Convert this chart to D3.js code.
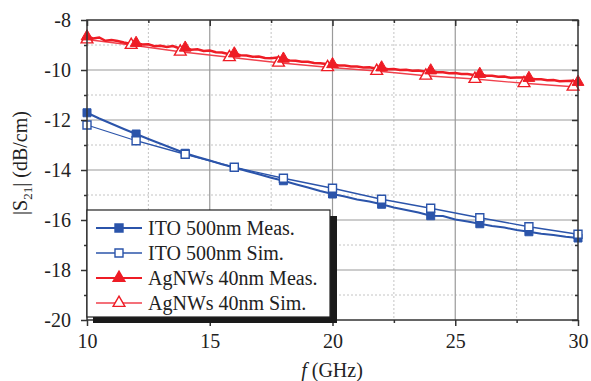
<!DOCTYPE html>
<html>
<head>
<meta charset="utf-8">
<script src="https://cdn.jsdelivr.net/npm/d3@7"></script>
<style>
  html, body { margin: 0; padding: 0; background: #fff; }
  svg { display: block; }
  text { font-family: "Liberation Serif", "Times New Roman", serif; fill: #222; }
</style>
</head>
<body>
<svg id="chart" width="591" height="381"></svg>
<script>
// Frequency axis (GHz) and tick labels
const xTicks = [10, 15, 20, 25, 30];
const xMinor = [12.5, 17.5, 22.5, 27.5];
const yTicks = [-8, -10, -12, -14, -16, -18, -20];
const yMinor = [-9, -11, -13, -15, -17, -19];

// ITO 500nm, measured (dB/cm)
const itoMeasF = [10, 10.5, 11, 11.5, 12, 12.5, 13, 13.5, 14, 14.5, 15, 15.5, 16, 16.5, 17, 17.5, 18, 18.5, 19, 19.5,
  20, 20.5, 21, 21.5, 22, 22.5, 23, 23.5, 24, 24.5, 25, 25.5, 26, 26.5, 27, 27.5, 28, 28.5, 29, 29.5, 30];
const itoMeas = [-11.71, -11.94, -12.15, -12.36, -12.56, -12.76, -12.95, -13.14, -13.33, -13.48, -13.62, -13.77, -13.90, -14.04,
  -14.17, -14.31, -14.43, -14.57, -14.70, -14.84, -14.96, -15.06, -15.18, -15.26, -15.37, -15.50, -15.60, -15.70, -15.83, -15.84,
  -15.98, -16.06, -16.15, -16.24, -16.30, -16.40, -16.47, -16.55, -16.60, -16.67, -16.72];

// ITO 500nm, simulated
const itoSimF = [10, 12, 14, 16, 18, 20, 22, 24, 26, 28, 30];
const itoSim = [-12.20, -12.83, -13.37, -13.89, -14.33, -14.73, -15.17, -15.53, -15.91, -16.27, -16.57];

// AgNWs 40nm, measured
const agMeasF = [10, 10.25, 10.5, 10.75, 11, 11.25, 11.5, 11.75, 12, 12.25, 12.5, 12.75, 13, 13.25, 13.5, 13.75, 14, 14.25, 14.5, 14.75,
  15, 15.25, 15.5, 15.75, 16, 16.25, 16.5, 16.75, 17, 17.25, 17.5, 17.75, 18, 18.25, 18.5, 18.75, 19, 19.25, 19.5, 19.75,
  20, 20.25, 20.5, 20.75, 21, 21.25, 21.5, 21.75, 22, 22.25, 22.5, 22.75, 23, 23.25, 23.5, 23.75, 24, 24.25, 24.5, 24.75,
  25, 25.25, 25.5, 25.75, 26, 26.25, 26.5, 26.75, 27, 27.25, 27.5, 27.75, 28, 28.25, 28.5, 28.75, 29, 29.25, 29.5, 29.75, 30];
const agMeas = [-8.66, -8.74, -8.70, -8.83, -8.80, -8.84, -8.90, -8.95, -8.92, -8.98, -8.97, -9.05, -9.03, -9.08, -9.04, -9.13,
  -9.11, -9.19, -9.17, -9.24, -9.22, -9.29, -9.30, -9.36, -9.34, -9.41, -9.42, -9.47, -9.46, -9.52, -9.53, -9.50, -9.55, -9.62,
  -9.63, -9.67, -9.67, -9.72, -9.73, -9.76, -9.77, -9.82, -9.82, -9.86, -9.86, -9.90, -9.89, -9.94, -9.90, -9.97, -9.96, -10.00,
  -9.99, -10.03, -10.02, -10.06, -10.02, -10.09, -10.09, -10.13, -10.12, -10.16, -10.16, -10.20, -10.16, -10.23, -10.23, -10.27,
  -10.26, -10.31, -10.30, -10.30, -10.32, -10.37, -10.37, -10.41, -10.40, -10.45, -10.44, -10.43, -10.48];

// AgNWs 40nm, simulated
const agSimF = [10, 11.8, 13.8, 15.8, 17.8, 19.8, 21.8, 23.8, 25.8, 27.8, 29.8];
const agSim = [-8.78, -9.00, -9.27, -9.49, -9.71, -9.89, -10.04, -10.23, -10.36, -10.53, -10.67];

const legendLabels = ["ITO 500nm Meas.", "ITO 500nm Sim.", "AgNWs 40nm Meas.", "AgNWs 40nm Sim."];

const BLUE = "#2b54aa";
const RED = "#ee1c25";
const RED_SIM = "#f0404c";

const svg = d3.select("#chart");
const m = { left: 87, right: 578, top: 20, bottom: 320 };
const x = d3.scaleLinear().domain([10, 30]).range([m.left, m.right]);
const y = d3.scaleLinear().domain([-20, -8]).range([m.bottom, m.top]);

// grid
const grid = svg.append("g");
grid.selectAll(".gxm").data(xMinor).join("line")
  .attr("x1", d => x(d)).attr("x2", d => x(d)).attr("y1", m.top).attr("y2", m.bottom)
  .attr("stroke", "#c4c4c4").attr("stroke-dasharray", "2,2");
grid.selectAll(".gym").data(yMinor).join("line")
  .attr("y1", d => y(d)).attr("y2", d => y(d)).attr("x1", m.left).attr("x2", m.right)
  .attr("stroke", "#c4c4c4").attr("stroke-dasharray", "2,2");
grid.selectAll(".gx").data(xTicks.slice(1, -1)).join("line")
  .attr("x1", d => x(d)).attr("x2", d => x(d)).attr("y1", m.top).attr("y2", m.bottom)
  .attr("stroke", "#9a9a9a").attr("stroke-width", 1.2);
grid.selectAll(".gy").data(yTicks.slice(1, -1)).join("line")
  .attr("y1", d => y(d)).attr("y2", d => y(d)).attr("x1", m.left).attr("x2", m.right)
  .attr("stroke", "#9a9a9a").attr("stroke-width", 1.2);

// series
const plot = svg.append("g");
const line = d3.line().x(d => x(d[0])).y(d => y(d[1]));
const zip = (a, b) => a.map((v, i) => [v, b[i]]);

const itoMeasPts = zip(itoMeasF, itoMeas);
const itoSimPts = zip(itoSimF, itoSim);
const agMeasPts = zip(agMeasF, agMeas);
const agSimPts = zip(agSimF, agSim);

plot.append("path").datum(itoSimPts).attr("d", line).attr("fill", "none").attr("stroke", BLUE).attr("stroke-width", 1.3);
plot.append("path").datum(itoMeasPts).attr("d", line).attr("fill", "none").attr("stroke", BLUE).attr("stroke-width", 2);
plot.append("path").datum(agSimPts).attr("d", line).attr("fill", "none").attr("stroke", RED_SIM).attr("stroke-width", 1.3);
plot.append("path").datum(agMeasPts).attr("d", line).attr("fill", "none").attr("stroke", RED).attr("stroke-width", 2.4)
  .attr("stroke-linejoin", "miter");

const sq = d3.symbol().type(d3.symbolSquare).size(64);
const tri = d3.symbol().type(d3.symbolTriangle).size(60);
const even = p => Math.abs(p[0] % 2) < 1e-9;

plot.selectAll(".ms").data(itoMeasPts.filter(even)).join("path")
  .attr("d", sq).attr("transform", d => `translate(${x(d[0])},${y(d[1])})`)
  .attr("fill", BLUE).attr("stroke", BLUE).attr("stroke-width", 1);
plot.selectAll(".ss").data(itoSimPts).join("path")
  .attr("d", sq).attr("transform", d => `translate(${x(d[0])},${y(d[1])})`)
  .attr("fill", "#fff").attr("stroke", BLUE).attr("stroke-width", 1.4);
plot.selectAll(".st").data(agSimPts).join("path")
  .attr("d", tri).attr("transform", d => `translate(${x(d[0])},${y(d[1])})`)
  .attr("fill", "#fff").attr("stroke", RED).attr("stroke-width", 1.4);
plot.selectAll(".mt").data(agMeasPts.filter(even)).join("path")
  .attr("d", tri).attr("transform", d => `translate(${x(d[0])},${y(d[1])})`)
  .attr("fill", RED).attr("stroke", RED).attr("stroke-width", 1);

// frame
svg.append("rect").attr("x", m.left).attr("y", m.top).attr("width", m.right - m.left).attr("height", m.bottom - m.top)
  .attr("fill", "none").attr("stroke", "#333").attr("stroke-width", 1.5);

// axes
const fmt = d => String(d);
const styleAxis = g => {
  g.attr("font-family", null);
  g.select(".domain").remove();
  g.selectAll(".tick line").attr("stroke", "#333").attr("stroke-width", 1.5);
  g.selectAll(".tick text").style("font-family", '"Liberation Serif", serif').style("font-size", "20px").attr("fill", "#222");
};
svg.append("g").attr("transform", `translate(0,${m.bottom})`)
  .call(d3.axisBottom(x).tickValues(xTicks).tickFormat(fmt).tickSizeInner(6).tickSizeOuter(0).tickPadding(8))
  .call(styleAxis);
svg.append("g").attr("transform", `translate(0,${m.bottom})`)
  .call(d3.axisBottom(x).tickValues(xMinor).tickFormat("").tickSizeInner(3).tickSizeOuter(0)).call(styleAxis);
svg.append("g").attr("transform", `translate(${m.left},0)`)
  .call(d3.axisLeft(y).tickValues(yTicks).tickFormat(fmt).tickSizeInner(6).tickSizeOuter(0).tickPadding(10))
  .call(styleAxis);
svg.append("g").attr("transform", `translate(${m.left},0)`)
  .call(d3.axisLeft(y).tickValues(yMinor).tickFormat("").tickSizeInner(3).tickSizeOuter(0)).call(styleAxis);
// mirrored inward ticks on top and right
svg.append("g").attr("transform", `translate(0,${m.top})`)
  .call(d3.axisBottom(x).tickValues(xTicks).tickFormat("").tickSizeInner(6).tickSizeOuter(0)).call(styleAxis);
svg.append("g").attr("transform", `translate(0,${m.top})`)
  .call(d3.axisBottom(x).tickValues(xMinor).tickFormat("").tickSizeInner(3).tickSizeOuter(0)).call(styleAxis);
svg.append("g").attr("transform", `translate(${m.right},0)`)
  .call(d3.axisLeft(y).tickValues(yTicks).tickFormat("").tickSizeInner(6).tickSizeOuter(0)).call(styleAxis);
svg.append("g").attr("transform", `translate(${m.right},0)`)
  .call(d3.axisLeft(y).tickValues(yMinor).tickFormat("").tickSizeInner(3).tickSizeOuter(0)).call(styleAxis);

// axis titles
const xt = svg.append("text").attr("x", 332).attr("y", 377).attr("text-anchor", "middle").style("font-size", "20px");
xt.append("tspan").attr("font-style", "italic").text("f");
xt.append("tspan").text(" (GHz)");

const yt = svg.append("text").attr("transform", "translate(27,163) rotate(-90)").attr("text-anchor", "middle").style("font-size", "20px");
yt.append("tspan").text("|S");
yt.append("tspan").attr("dy", 5).style("font-size", "13px").text("21");
yt.append("tspan").attr("dy", -5).text("| (dB/cm)");

// legend with drop shadow
const lg = { x: 87, y: 210, w: 243, h: 107 };
svg.append("rect").attr("x", lg.x + 6).attr("y", lg.y + 6).attr("width", lg.w + 1).attr("height", lg.h).attr("fill", "#1a1a1a");
svg.append("rect").attr("x", lg.x).attr("y", lg.y).attr("width", lg.w).attr("height", lg.h)
  .attr("fill", "#fff").attr("stroke", "#222").attr("stroke-width", 1.2);

const legendStyle = [
  { color: BLUE, sym: sq, fill: BLUE, w: 2 },
  { color: BLUE, sym: sq, fill: "#fff", w: 1.3 },
  { color: RED, sym: tri, fill: RED, w: 2 },
  { color: RED_SIM, sym: tri, fill: "#fff", w: 1.3 }
];
const rowY = [228, 253, 278, 303];
legendLabels.forEach((lab, i) => {
  const s = legendStyle[i];
  const g = svg.append("g").attr("transform", `translate(0,${rowY[i]})`);
  g.append("line").attr("x1", 96).attr("x2", 142).attr("stroke", s.color).attr("stroke-width", s.w);
  g.append("path").attr("d", s.sym).attr("transform", "translate(119,0)")
    .attr("fill", s.fill).attr("stroke", i === 3 ? RED : s.color).attr("stroke-width", 1.4);
  g.append("text").attr("x", 148).attr("y", 7).style("font-size", "20px").text(lab);
});
</script>
</body>
</html>
